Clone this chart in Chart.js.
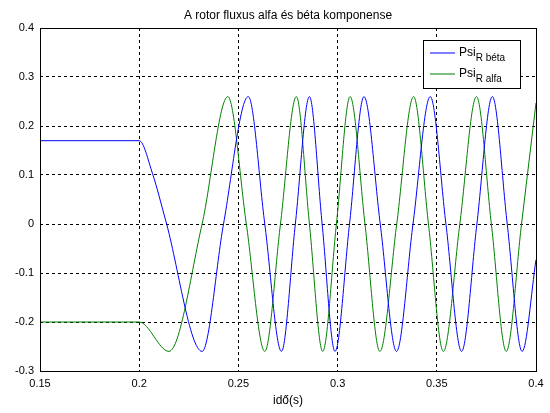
<!DOCTYPE html>
<html>
<head>
<meta charset="utf-8">
<script src="https://cdn.jsdelivr.net/npm/chart.js@4"></script>
<style>
  html, body { margin: 0; padding: 0; background: #fff; }
  #wrap { width: 550px; height: 413px; }
</style>
</head>
<body>
<div id="wrap"><canvas id="c"></canvas></div>
<script>
// values: extrema and zero crossings of each curve
const betaT = [0.15, 0.2, 0.2067, 0.2133, 0.2317, 0.2425, 0.255, 0.2633, 0.2717, 0.2787, 0.2858, 0.2922, 0.2987, 0.306, 0.3133, 0.3215, 0.3297, 0.338, 0.3467, 0.3546, 0.3625, 0.3702, 0.378, 0.3855, 0.393, 0.4];
const betaV = [0.17, 0.17, 0.103, 0.008, -0.26, 0, 0.26, 0, -0.26, 0, 0.26, 0, -0.26, 0, 0.26, 0, -0.26, 0, 0.26, 0, -0.26, 0, 0.26, 0, -0.26, -0.073];
const alfaT = [0.15, 0.2, 0.215, 0.2317, 0.2447, 0.254, 0.2633, 0.2712, 0.2792, 0.2858, 0.2925, 0.2994, 0.3063, 0.3138, 0.3213, 0.3298, 0.3383, 0.3458, 0.3533, 0.3616, 0.37, 0.3775, 0.385, 0.3927, 0.4];
const alfaV = [-0.2, -0.2, -0.26, 0, 0.26, 0, -0.26, 0, 0.26, 0, -0.26, 0, 0.26, 0, -0.26, 0, 0.26, 0, -0.26, 0, 0.26, 0, -0.26, 0, 0.247];
const xTicks = [0.15, 0.2, 0.25, 0.3, 0.35, 0.4];
const yTicks = [-0.3, -0.2, -0.1, 0, 0.1, 0.2, 0.3, 0.4];

const toPts = (t, v) => t.map((x, i) => ({ x: x, y: v[i] }));
const FONT = 'Liberation Sans, Arial, sans-serif';

const frame = {
  id: 'frame',
  afterDraw(chart) {
    const { ctx, chartArea: a } = chart;
    ctx.save();
    ctx.strokeStyle = '#000';
    ctx.lineWidth = 1;
    ctx.strokeRect(a.left + 0.5, a.top + 0.5, a.right - a.left, a.bottom - a.top);
    ctx.fillStyle = '#000';
    ctx.font = '12px ' + FONT;
    ctx.textAlign = 'center';
    ctx.fillText('A rotor fluxus alfa és béta komponense', (a.left + a.right) / 2, 19);
    ctx.fillText('idő(s)', (a.left + a.right) / 2, 404);
    // legend
    const bx = 423, by = 40, bw = 97, bh = 48;
    ctx.fillStyle = '#fff';
    ctx.fillRect(bx, by, bw, bh);
    ctx.strokeRect(bx + 0.5, by + 0.5, bw, bh);
    const items = [['R béta', 'blue', 53], ['R alfa', 'green', 74]];
    ctx.textAlign = 'left';
    items.forEach(([sub, col, y]) => {
      ctx.strokeStyle = col;
      ctx.beginPath(); ctx.moveTo(430, y); ctx.lineTo(455, y); ctx.stroke();
      ctx.fillStyle = '#000';
      ctx.font = '12px ' + FONT;
      ctx.fillText('Psi', 459, y + 3);
      const w = ctx.measureText('Psi').width;
      ctx.font = '10px ' + FONT;
      ctx.fillText(sub, 459 + w, y + 8);
    });
    ctx.restore();
  }
};

new Chart(document.getElementById('c'), {
  type: 'scatter',
  data: {
    datasets: [
      { label: 'Psi R béta', data: toPts(betaT, betaV), borderColor: 'blue' },
      { label: 'Psi R alfa', data: toPts(alfaT, alfaV), borderColor: 'green' }
    ]
  },
  options: {
    responsive: true,
    maintainAspectRatio: false,
    animation: false,
    showLine: true,
    layout: { padding: { top: 28, right: 14, left: 0 } },
    elements: {
      point: { radius: 0 },
      line: { borderWidth: 1, cubicInterpolationMode: 'monotone' }
    },
    plugins: { legend: { display: false }, tooltip: { enabled: false } },
    scales: {
      x: {
        type: 'linear', min: 0.15, max: 0.4,
        afterBuildTicks: s => { s.ticks = xTicks.map(v => ({ value: v })); },
        afterFit: s => { s.height = 42; },
        grid: { color: '#000', tickLength: 4, borderDash: [3, 3], drawTicks: false },
        border: { display: false, dash: [3, 3] },
        ticks: { color: '#000', font: { family: FONT, size: 11 }, padding: 6, callback: v => String(Math.round(v * 100) / 100) }
      },
      y: {
        type: 'linear', min: -0.3, max: 0.4,
        afterBuildTicks: s => { s.ticks = yTicks.map(v => ({ value: v })); },
        afterFit: s => { s.width = 40; },
        grid: { color: '#000', drawTicks: false },
        border: { display: false, dash: [3, 3] },
        ticks: { color: '#000', font: { family: FONT, size: 11 }, padding: 6, callback: v => String(Math.round(v * 10) / 10) }
      }
    }
  },
  plugins: [frame]
});
</script>
</body>
</html>
